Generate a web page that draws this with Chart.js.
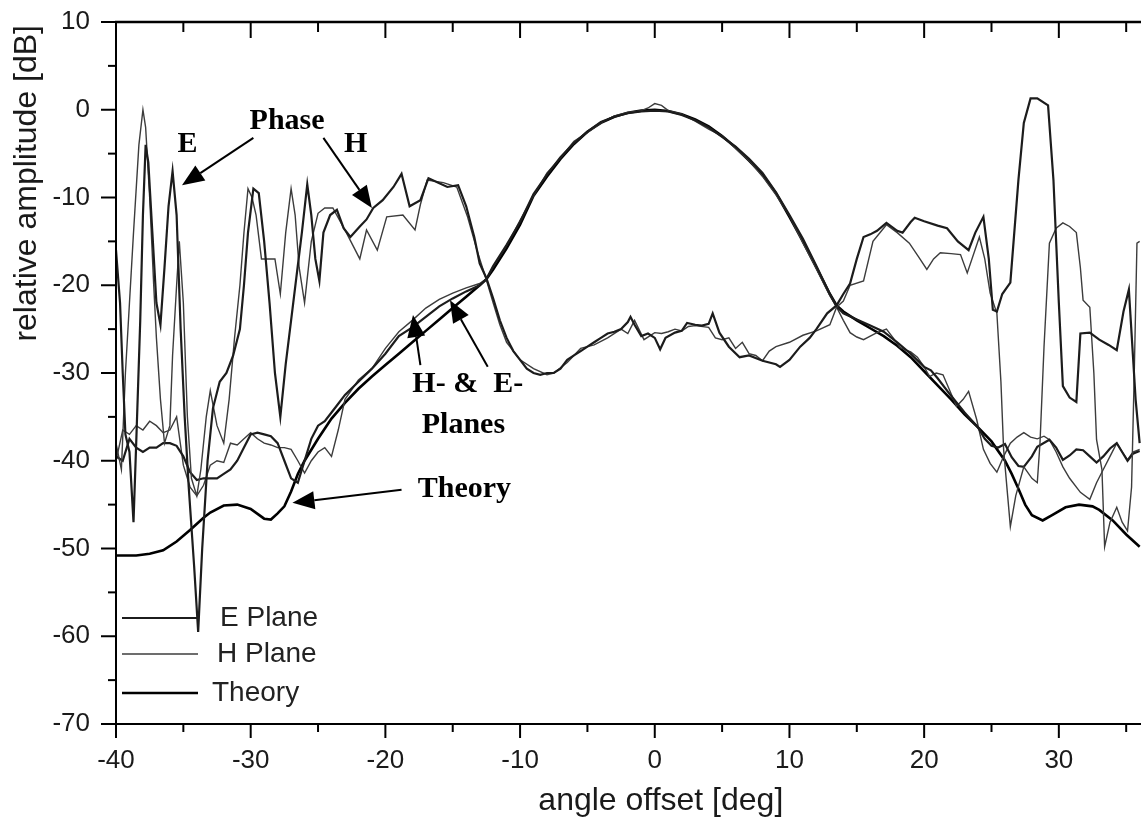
<!DOCTYPE html>
<html>
<head>
<meta charset="utf-8">
<title>relative amplitude vs angle offset</title>
<script src="https://cdn.jsdelivr.net/npm/chart.js@4.4.1/dist/chart.umd.min.js"></script>
<style>
  html, body { margin: 0; padding: 0; background: #fff; }
  #wrap { width: 1141px; height: 818px; position: relative; }
</style>
</head>
<body>
<div id="wrap"><canvas id="chart"></canvas></div>
<script>
// axis ticks (labels only on multiples of 10)
const xTickValues = [-40, -35, -30, -25, -20, -15, -10, -5, 0, 5, 10, 15, 20, 25, 30, 35];
const yTickValues = [-70, -65, -60, -55, -50, -45, -40, -35, -30, -25, -20, -15, -10, -5, 0, 5, 10];

// E plane amplitude
const ePlaneDeg = [-40,-39.5,-39,-38.5,-38,-37.5,-37,-36.5,-36,-35.5,-35,-34.5,-34,-33.5,-33,-32.5,-32,-31.5,-31,-30.5,
  -30,-29.5,-29,-28.5,-28,-27.5,-27,-26.5,-26,-25.5,-25,-24.5,-24,-23.5,-23,-22,-21,-20,-19,-18,-17,-16,-15,-14,-13,
  -12.5,-12,-11,-10,-9,-8,-7,-6,-5,-4,-3,-2,-1,0,1,2,3,4,5,6,7,8,9,10,11,12,13,13.5,14,15,16,17,18,19,20,
  20.5,21,22,23,24,24.5,25,25.5,26,26.5,27,27.4,28,28.4,29.3,29.8,30.3,30.8,31.3,31.8,32.3,32.8,33.3,33.8,34.3,34.7,35.1,35.5,36];
const ePlaneDb = [-39.5,-40,-37.5,-38.5,-39,-38.5,-38.5,-38,-38,-38.3,-39.5,-41.3,-42.2,-42,-42,-42,-41.5,-41,-40,-38.5,
  -37,-36.8,-37,-37.2,-38,-40,-42,-42.5,-40,-37.5,-36,-35.5,-34.5,-33.5,-32.5,-31,-29.5,-27.8,-25.8,-24.8,-23.6,-22.4,-21.5,-20.7,-20,
  -19.3,-17.8,-15.4,-12.8,-9.6,-7.4,-5.4,-3.8,-2.5,-1.4,-0.8,-0.4,-0.2,-0.1,-0.2,-0.6,-1.2,-2,-3.1,-4.2,-5.6,-7.2,-9.4,-12,-14.7,-17.8,-21,-22.4,-23.2,-23.9,-24.6,-25.3,-26.5,-27.8,-29.3,
  -29.7,-30.6,-32.6,-34.5,-36.2,-37.5,-38.3,-38.5,-38.1,-39.6,-40.6,-40.7,-39.5,-38.4,-37.6,-38.5,-39.9,-39.4,-38.7,-38.8,-39.5,-40.2,-39.5,-38.6,-38,-39,-40,-39.2,-38.9];

// H plane amplitude
const hPlaneDeg = [-40,-39.5,-39,-38.5,-38,-37.5,-37,-36.5,-36,-35.5,-35,-34.5,-34,-33.5,-33,-32.5,-32,-31.5,-31,-30.5,
  -30,-29.5,-29,-28.5,-28,-27.5,-27,-26.5,-26,-25.5,-25,-24.5,-24,-23.5,-23,-22,-21,-20,-19,-18,-17,-16,-15,-14,-13,
  -12.5,-12,-11,-10,-9,-8,-7,-6,-5,-4,-3,-2,-1,-0.5,0,0.5,1,2,3,4,5,6,7,8,9,10,11,12,13,
  13.5,14,14.5,15,15.5,16,16.5,17.2,17.7,18.2,19,19.5,20,20.4,20.9,21.4,21.9,22.4,22.9,23.3,23.9,24.4,24.9,25.4,25.9,26.4,26.9,27.4,27.9,28.4,
  28.9,29.3,29.8,30.3,30.8,31.6,32.3,32.8,33.3,33.8,34.3,34.7,35.1,35.5,36];
const hPlaneDb = [-40,-36.5,-37,-36,-36.5,-35.5,-36,-36.8,-36.5,-35,-40.5,-43,-44,-42.8,-40.5,-40,-40.2,-38,-38.2,-37.5,
  -36.8,-37.5,-38,-38.2,-38.5,-38.5,-38.7,-40,-41.4,-40,-39,-38.5,-39.5,-36.5,-33,-30.8,-29.5,-27.2,-25.3,-24,-22.6,-21.6,-20.9,-20.3,-19.8,
  -19.3,-17.9,-15.5,-12.6,-9.8,-7.2,-5.5,-3.6,-2.6,-1.5,-0.7,-0.3,-0.1,0.2,0.7,0.5,-0.1,-0.5,-1.3,-2.2,-3,-4.4,-5.8,-7.6,-9.7,-12.1,-15.2,-18.1,-21.2,
  -22.5,-24,-25.4,-25.9,-26.2,-25.8,-25.4,-25,-26,-27.1,-27.6,-28.2,-29.3,-30.4,-30,-30.2,-32,-33.8,-33,-32.1,-35.3,-38.7,-40.3,-41.3,-39.5,-38,-37.3,-36.8,-37.3,-37.5,
  -37.2,-37.6,-39,-40.7,-42,-43.6,-44.4,-42.5,-41,-39.5,-38,-39,-39.9,-39,-38.7];

// theory
const theoryDeg = [-40,-38.5,-37.5,-36.5,-35.5,-34.5,-33.5,-33,-32,-31,-30,-29,-28.5,-28,-27.5,-27,-26.5,-26,-25,-24,
  -23,-22,-21,-20,-19,-18,-17,-16,-15,-14,-13,-12.5,-12,-11,-10,-9,-8,-7,-6,-5,-4,-3,-2,-1,0,1,2,3,4,5,
  6,7,8,9,10,11,12,13,13.5,14,15,16,17,18,19,20,21,22,23,24,25,26,26.5,27,27.5,28,28.8,29.5,30.5,31.5,32.5,33,34,35,36];
const theoryDb = [-50.8,-50.8,-50.6,-50.2,-49.2,-47.9,-46.5,-45.9,-45.1,-45,-45.5,-46.6,-46.7,-46,-45.2,-43.5,-41.5,-40,-37.5,-35.2,
  -33.4,-31.8,-30.4,-29.1,-27.8,-26.5,-25.2,-23.9,-22.6,-21.3,-20,-19.3,-18.2,-15.8,-13.1,-9.8,-7.6,-5.6,-3.9,-2.5,-1.5,-0.8,-0.35,-0.1,0,-0.15,-0.5,-1.1,-1.9,-3,
  -4.3,-5.8,-7.4,-9.5,-12.2,-15,-18,-21,-22.3,-23,-24,-24.9,-25.8,-26.9,-28.2,-29.8,-31.4,-33,-34.7,-36.2,-37.8,-40,-41.5,-43.2,-45,-46.2,-46.8,-46.2,-45.3,-45,-45.2,-45.6,-46.8,-48.4,-49.8];

// phase traces (E thick, H thin)
const ePhaseDeg = [-40,-39.7,-39.5,-39.3,-39,-38.7,-38.5,-38.2,-38,-37.8,-37.6,-37.3,-37,-36.7,-36.4,-36.1,-35.8,-35.5,-35.2,-34.9,
  -34.6,-34.2,-33.9,-33.6,-33.2,-32.8,-32.3,-31.8,-31.3,-30.8,-30.5,-30.2,-29.8,-29.4,-29,-28.6,-28.2,-27.8,-27.4,-27,
  -26.6,-26.2,-25.8,-25.5,-25.2,-24.9,-24.6,-24.1,-23.6,-23.1,-22.6,-21.9,-21.4,-20.9,-20.2,-19.4,-18.8,-18.2,-17.4,-16.8,
  -15.4,-14.6,-14,-13.4,-13,-12.5,-12,-11.5,-11,-10.5,-10,-9.5,-9,-8.5,-8,-7.5,-7,-6.5,-6,-5.5,
  -5,-4.5,-4,-3.5,-3,-2.5,-2,-1.8,-1.5,-1,-0.5,0,0.4,0.8,1.5,2,2.4,3,3.5,4,
  4.3,4.8,5.5,6.3,7,8,9,9.3,10,10.8,11.5,12,12.8,13.5,14,14.5,15,15.5,16,16.5,
  17.2,18,18.4,19,19.3,20,21,21.7,22.5,23.3,23.8,24.4,24.8,25.1,25.4,25.8,26.4,27,27.4,27.9,
  28.4,29.2,29.6,30,30.3,30.8,31.3,31.6,32.3,33,33.7,34.3,34.8,35.2,35.5,35.7,36];
const ePhaseDb = [-16,-22,-30,-37,-39,-47,-38,-24,-12,-4,-6,-14,-22,-24.5,-18,-11,-7,-12,-25,-35,
  -43,-52,-59.5,-50,-40,-34,-31,-30,-28,-25,-20,-14,-9,-9.5,-15,-22,-30,-35,-29,-24,
  -19,-14,-8.5,-12,-17,-19.5,-14,-12,-11.4,-13.5,-14.5,-13.3,-12.5,-11.2,-10.3,-8.8,-7.3,-11,-10.3,-7.8,
  -8.8,-8.6,-11,-14.5,-17.5,-19.2,-21.5,-24,-26,-27.5,-28.5,-29.5,-30,-30.2,-30,-30,-29.5,-28.5,-28,-27.5,
  -27,-26.5,-26,-25.5,-25.3,-25,-24.2,-23.6,-24.5,-25.8,-25.5,-26,-27.3,-26,-25.4,-25.2,-24.3,-24.5,-24.6,-24.4,
  -23.2,-25.4,-27,-28.2,-28,-28.6,-29,-29.3,-28.5,-27,-26,-25,-23.2,-22.3,-21,-19.8,-17,-14.5,-14.2,-13.8,
  -12.9,-13.8,-14,-12.8,-12.3,-12.7,-13.2,-13.5,-15,-16,-14,-12.2,-17,-22.8,-23,-21,-19.7,-8,-1.5,1.3,
  1.3,0.5,-8,-22,-31.5,-32.8,-33.3,-25.5,-25.4,-26.2,-26.8,-27.4,-23,-20.5,-28,-33,-38];

const hPhaseDeg = [-40,-39.6,-39.3,-39,-38.7,-38.3,-38,-37.8,-37.5,-37.2,-37,-36.7,-36.4,-36,-35.8,-35.5,-35.3,-35,-34.7,-34.4,
  -34,-33.7,-33.3,-33,-32.5,-32,-31.6,-31.2,-30.8,-30.5,-30.2,-29.9,-29.6,-29.2,-28.7,-28.2,-27.8,-27.4,-27,-26.7,
  -26.4,-26,-25.5,-25,-24.5,-23.9,-22.9,-21.9,-21.4,-20.6,-19.9,-18.7,-17.8,-17.4,-16.9,-15.7,-14.7,-13.9,-13.2,-12.5,
  -12,-11.5,-11,-10,-9,-8,-7.5,-6.5,-5.5,-4.5,-3.5,-2.5,-2,-1.5,-0.8,0,0.5,1,1.5,2,
  2.5,3,4,4.5,5,5.5,6,6.5,7,7.5,8,8.5,9,10,11,12,13,13.5,14,14.5,
  15.5,16.2,17.2,18,18.9,19.6,20.2,20.7,21.2,22,22.7,23.2,24.1,24.5,24.9,25.4,25.7,25.9,26.2,26.4,
  26.8,27.4,28,28.4,28.6,28.9,29.3,29.8,30.3,30.8,31.3,31.6,31.8,32.3,32.6,32.8,33.2,33.4,33.8,34.3,
  34.7,35.1,35.4,35.6,35.8,36];
const hPhaseDb = [-38,-41,-30,-22,-14,-4,0,-2,-10,-20,-26,-33,-38,-36,-28,-20,-15,-22,-35,-42,
  -44,-41,-35,-32,-36,-38,-33,-26,-20,-14,-9,-10,-12,-17,-17,-17,-21,-14,-9,-12,
  -18,-22,-15,-11.8,-11.2,-11.2,-14,-17,-13.7,-16,-12.2,-12,-13.7,-10.8,-8,-8.3,-8.8,-12.2,-16,-19.4,
  -22,-24.5,-26.5,-28.5,-29.5,-30.2,-30,-28.8,-27.2,-26.8,-26,-25,-25.5,-24,-26.2,-25.4,-25.5,-25.3,-25,-25.2,
  -24.7,-24.6,-24.8,-26,-26.2,-26,-27.2,-26.5,-27.8,-28,-28.6,-27.5,-27,-26.5,-25.7,-25.2,-24.5,-22.5,-21.8,-20,
  -19.5,-15,-13.1,-14,-15.2,-16.8,-18.2,-17,-16.3,-16.4,-16.5,-18.6,-14.5,-17,-20.9,-23.2,-31,-38.7,-44,-47.5,
  -44,-40.7,-42,-42.5,-38,-27,-15.2,-13.5,-12.9,-13.3,-14,-18,-21.7,-22.5,-30,-37.6,-41,-49.8,-47,-45.3,
  -47,-48,-43,-30,-15.2,-15];

// text labels placed at data coordinates
const notes = [
  { text: 'Phase', x: -27.3, y: -1.3, align: 'center' },
  { text: 'E', x: -34.7, y: -3.9, align: 'center' },
  { text: 'H', x: -22.2, y: -3.9, align: 'center' },
  { text: 'H- &  E-', x: -18.0, y: -31.3, align: 'left' },
  { text: 'Planes', x: -17.3, y: -35.9, align: 'left' },
  { text: 'Theory', x: -17.6, y: -43.3, align: 'left' },
];
// arrows: [fromX, fromY, tipX, tipY]
const arrows = [
  [-29.8, -3.2, -35.1, -8.6],
  [-24.6, -3.2, -21.0, -11.2],
  [-17.4, -29.1, -17.95, -23.4],
  [-12.4, -29.3, -15.2, -21.7],
  [-18.8, -43.3, -26.9, -44.8],
];

const sans = "'Liberation Sans', Arial, Helvetica, sans-serif";
const serif = "'Liberation Serif', 'Times New Roman', serif";

function pairs(xs, ys) {
  if (xs.length !== ys.length) console.warn('length mismatch', xs.length, ys.length);
  return xs.map((x, i) => ({ x, y: ys[i] }));
}

const legendRows = [
  { label: 'E Plane', ds: 2, dy: -106, tx: 104 },
  { label: 'H Plane', ds: 3, dy: -70, tx: 101 },
  { label: 'Theory', ds: 4, dy: -31, tx: 96 },
];

// axes, ticks, labels, legend and the arrow notes
const decorations = {
  id: 'decorations',
  afterDraw(chart) {
    const { ctx, chartArea: a, scales: { x, y } } = chart;
    const seg = (x1, y1, x2, y2) => { ctx.beginPath(); ctx.moveTo(x1, y1); ctx.lineTo(x2, y2); ctx.stroke(); };
    ctx.save();
    ctx.strokeStyle = '#000';
    ctx.lineCap = 'butt';

    ctx.lineWidth = 2;
    seg(a.left, a.top - 1, a.left, a.bottom + 1);
    seg(a.left - 1, a.bottom, a.right, a.bottom);
    ctx.lineWidth = 2.5;
    seg(a.left - 1, a.top, a.right, a.top);

    ctx.lineWidth = 2;
    ctx.fillStyle = '#1a1a1a';
    ctx.font = `26px ${sans}`;
    ctx.textBaseline = 'middle';
    ctx.textAlign = 'center';
    xTickValues.forEach(v => {
      const px = x.getPixelForValue(v);
      const major = v % 10 === 0;
      seg(px, a.bottom, px, a.bottom + (major ? 14 : 8));
      seg(px, a.top, px, a.top + (major ? 16 : 10));
      if (major) ctx.fillText(String(v), px, a.bottom + 37);
    });
    ctx.textAlign = 'right';
    yTickValues.forEach(v => {
      const py = y.getPixelForValue(v);
      const major = v % 10 === 0;
      seg(a.left - (major ? 15 : 8), py, a.left, py);
      if (major) ctx.fillText(String(v), a.left - 26, py);
    });

    // axis titles
    ctx.font = `32px ${sans}`;
    ctx.textAlign = 'center';
    ctx.fillText('angle offset [deg]', x.getPixelForValue(0.45), 801);
    ctx.save();
    ctx.translate(27, a.top + 3);
    ctx.rotate(-Math.PI / 2);
    ctx.textAlign = 'right';
    ctx.fillText('relative amplitude [dB]', 0, 0);
    ctx.restore();

    // legend inside the plot, lower left
    ctx.font = `28px ${sans}`;
    ctx.textAlign = 'left';
    legendRows.forEach(r => {
      const ds = chart.data.datasets[r.ds];
      const ly = a.bottom + r.dy;
      ctx.strokeStyle = ds.borderColor;
      ctx.lineWidth = ds.borderWidth;
      seg(a.left + 6, ly, a.left + 82, ly);
      ctx.fillStyle = '#222';
      ctx.fillText(r.label, a.left + r.tx, ly);
    });

    // annotations
    ctx.fillStyle = '#000';
    ctx.strokeStyle = '#000';
    ctx.font = `bold 30px ${serif}`;
    notes.forEach(n => {
      ctx.textAlign = n.align;
      ctx.fillText(n.text, x.getPixelForValue(n.x), y.getPixelForValue(n.y));
    });
    ctx.lineWidth = 2;
    arrows.forEach(([fx, fy, tx, ty]) => {
      const x1 = x.getPixelForValue(fx), y1 = y.getPixelForValue(fy);
      const x2 = x.getPixelForValue(tx), y2 = y.getPixelForValue(ty);
      const ang = Math.atan2(y2 - y1, x2 - x1);
      const len = 22, half = 9;
      const bx = x2 - len * Math.cos(ang), by = y2 - len * Math.sin(ang);
      seg(x1, y1, bx, by);
      ctx.beginPath();
      ctx.moveTo(x2, y2);
      ctx.lineTo(bx + half * Math.sin(ang), by - half * Math.cos(ang));
      ctx.lineTo(bx - half * Math.sin(ang), by + half * Math.cos(ang));
      ctx.closePath();
      ctx.fill();
    });
    ctx.restore();
  }
};

new Chart(document.getElementById('chart'), {
  type: 'line',
  data: {
    datasets: [
      { label: 'E phase', data: pairs(ePhaseDeg, ePhaseDb), borderColor: '#1c1c1c', borderWidth: 2.2 },
      { label: 'H phase', data: pairs(hPhaseDeg, hPhaseDb), borderColor: '#3c3c3c', borderWidth: 1.4 },
      { label: 'E Plane', data: pairs(ePlaneDeg, ePlaneDb), borderColor: '#1c1c1c', borderWidth: 2.2 },
      { label: 'H Plane', data: pairs(hPlaneDeg, hPlaneDb), borderColor: '#3c3c3c', borderWidth: 1.4 },
      { label: 'Theory', data: pairs(theoryDeg, theoryDb), borderColor: '#000', borderWidth: 2.6 },
    ],
  },
  options: {
    responsive: true,
    maintainAspectRatio: false,
    animation: false,
    layout: { padding: { top: 22, left: 0, right: 0, bottom: 0 } },
    elements: { point: { radius: 0 }, line: { tension: 0, fill: false } },
    plugins: { legend: { display: false }, tooltip: { enabled: false } },
    scales: {
      x: {
        type: 'linear',
        min: -40,
        max: 36.1,
        afterFit: s => { s.height = 94; },
        grid: { display: false, drawTicks: false },
        border: { display: false },
        ticks: { display: false },
      },
      y: {
        type: 'linear',
        min: -70,
        max: 10,
        afterFit: s => { s.width = 116; },
        grid: { display: false, drawTicks: false },
        border: { display: false },
        ticks: { display: false },
      },
    },
  },
  plugins: [decorations],
});
</script>
</body>
</html>
